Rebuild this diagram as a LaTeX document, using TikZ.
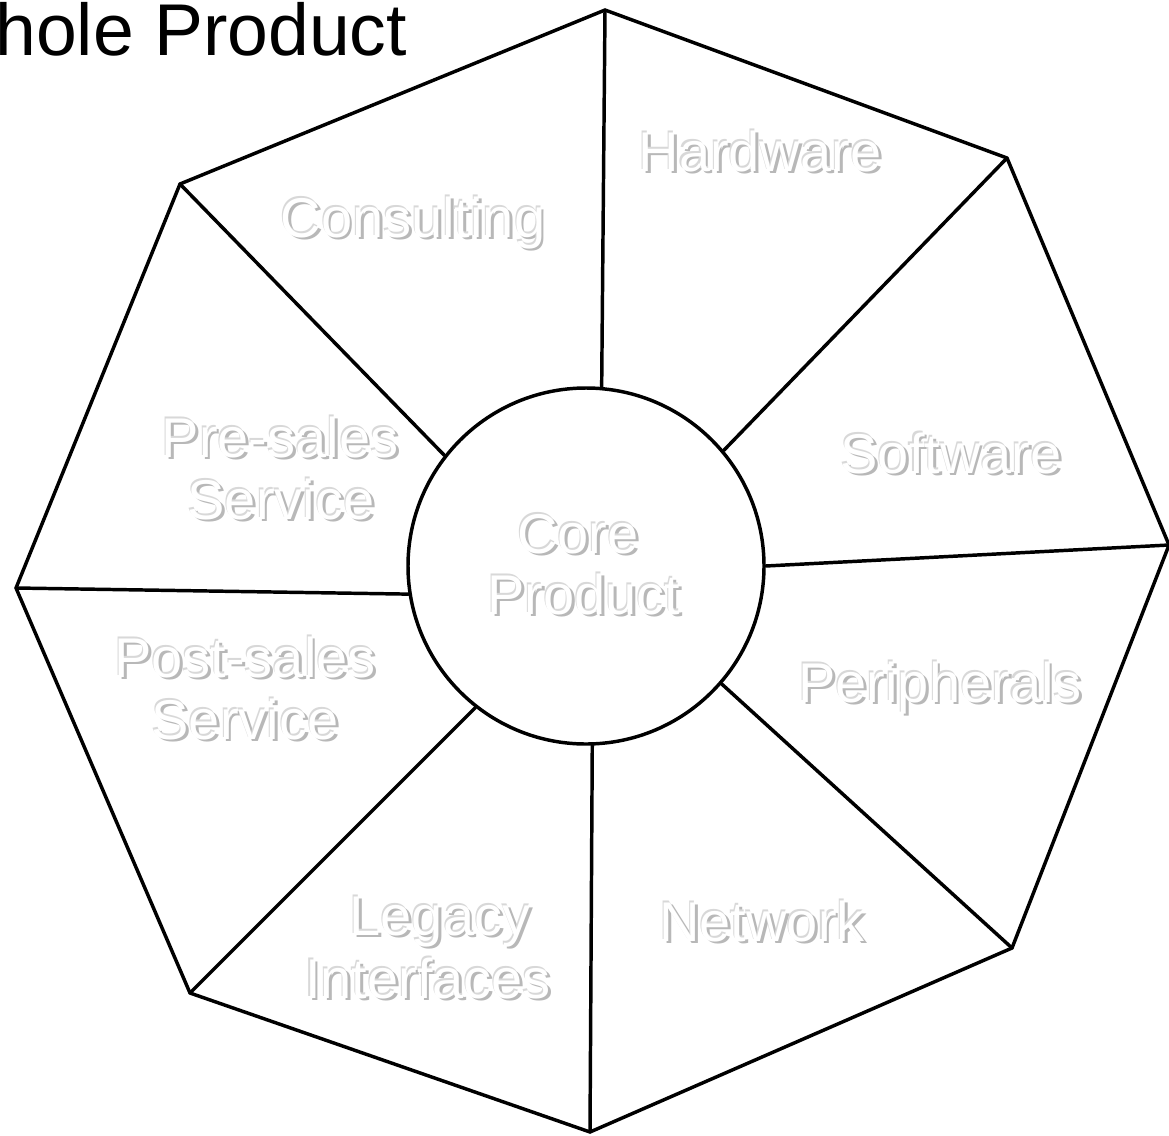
\documentclass[tikz,border=0pt]{standalone}
\usepackage{fontspec}
\setmainfont{Liberation Sans}
\definecolor{shadowgray}{HTML}{B8B8B8}
\definecolor{rimgray}{HTML}{D8D8D8}
\newcommand\embtext[3]{%
  \node[lab, text=shadowgray, xshift=2.1pt, yshift=-2.1pt] at (#2) {#3};
  \node[lab, text=rimgray, xshift=-0.8pt, yshift=0.8pt] at (#2) {#3};
  \node[lab, text=white] (#1) at (#2) {#3};
}
\begin{document}
\begin{tikzpicture}[x=0.75pt,y=-0.75pt,
  edge/.style={line width=2.6pt,line cap=round,line join=round},
  lab/.style={font=\fontsize{42}{48}\selectfont, anchor=base, inner sep=0pt}]
\useasboundingbox (0,0) rectangle (1169,1135);
\fill[white] (0,0) rectangle (1169,1135);
% octagon vertices
\coordinate (v1) at (605,10);
\coordinate (v2) at (1007,158);
\coordinate (v3) at (1169,545);
\coordinate (v4) at (1012,948);
\coordinate (v5) at (590,1132);
\coordinate (v6) at (190,993);
\coordinate (v7) at (16,588);
\coordinate (v8) at (180,184);
\draw[edge] (v1) -- (v2) -- (v3) -- (v4) -- (v5) -- (v6) -- (v7) -- (v8) -- cycle;
% core circle
\node[circle, draw, edge, minimum size=267pt, inner sep=0pt] (core) at (586,566) {};
% spokes
\draw[edge] (core.85.5) -- (v1);
\draw[edge] (core.40.5) -- (v2);
\draw[edge] (core.-0.6) -- (v3);
\draw[edge] (core.-41.8) -- (v4);
\draw[edge] (core.-88.7) -- (v5);
\draw[edge] (core.232.2) -- (v6);
\draw[edge] (core.189) -- (v7);
\draw[edge] (core.142) -- (v8);
% title
\node[anchor=base west, font=\fontsize{55}{60}\selectfont, inner sep=0pt] (title) at (-5,55) {hole Product};
% labels
\coordinate (p1) at (760,171);
\coordinate (p2) at (413,237);
\coordinate (p3) at (951,473);
\coordinate (p4a) at (280,457);
\coordinate (p4b) at (281,519);
\coordinate (p5a) at (578,553);
\coordinate (p5b) at (584,614);
\coordinate (p6a) at (245,677);
\coordinate (p6b) at (245,739);
\coordinate (p7) at (940,702);
\coordinate (p8a) at (440,935);
\coordinate (p8b) at (428,998);
\coordinate (p9) at (762,941);
\embtext{hardware}{p1}{Hardware}
\embtext{consulting}{p2}{Consulting}
\embtext{software}{p3}{Software}
\embtext{presalesA}{p4a}{Pre-sales}
\embtext{presalesB}{p4b}{Service}
\embtext{coreA}{p5a}{Core}
\embtext{coreB}{p5b}{Product}
\embtext{postsalesA}{p6a}{Post-sales}
\embtext{postsalesB}{p6b}{Service}
\embtext{peripherals}{p7}{Peripherals}
\embtext{legacyA}{p8a}{Legacy}
\embtext{legacyB}{p8b}{Interfaces}
\embtext{network}{p9}{Network}
\end{tikzpicture}
\end{document}
